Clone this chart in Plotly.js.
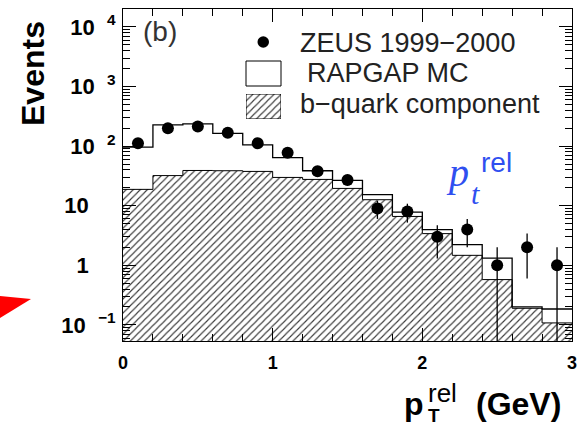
<!DOCTYPE html>
<html><head><meta charset="utf-8">
<script src="https://cdn.plot.ly/plotly-3.0.1.min.js"></script>
<style>html,body{margin:0;padding:0;background:#fff}#chart{width:585px;height:425px}</style>
</head><body><div id="chart"></div>
<script>
// ---- data ----
const binLow = [0.0,0.2,0.4,0.6,0.8,1.0,1.2,1.4,1.6,1.8,2.0,2.2,2.4,2.6,2.8];
const binHigh = 3.0;
const binWidth = 0.2;
const binCenters = [0.1,0.3,0.5,0.7,0.9,1.1,1.3,1.5,1.7,1.9,2.1,2.3,2.5,2.7,2.9];
const zeusCounts = [112,200,213,167,112,77,38,27,9,8,3,4,1,2,1];
const zeusErrUp   = [10.6,14.1,14.6,12.9,10.6,8.8,6.2,5.2,3.0,2.8,1.7,2.0,1.0,1.4,1.0];
const zeusErrDown = [10.6,14.1,14.6,12.9,10.6,8.8,6.2,5.2,3.0,2.8,1.7,2.0,0.99,1.4,0.99];
const rapgapMC = [96,227,236,164,105,64,38.6,26.5,15.3,7.8,3.96,2.22,1.32,0.20,0.185];
const bQuark   = [18.8,32,39,38.6,37.6,29.8,27.6,19.5,12.6,6.6,3.4,1.47,0.576,0.19,0.108];
const xTickVals = [0,1,2,3];
const xTickText = ['0','1','2','3'];
const xMinorVals = [0.2,0.4,0.6,0.8,1.2,1.4,1.6,1.8,2.2,2.4,2.6,2.8];
const yTickVals = [0.1,1,10,100,1000,10000];
const NB = '\u00A0';
const yTickText = ['10'+NB+NB+'<sup>\u22121</sup>', '1'+NB+NB+NB+'<sup>'+NB+NB+'</sup>', '10'+NB+NB+NB+'<sup>'+NB+NB+'</sup>',
                   '10'+NB+NB+'<sup>2</sup>', '10'+NB+NB+'<sup>3</sup>', '10'+NB+NB+'<sup>4</sup>'];
const yMinorMantissa = [2,3,4,5,6,7,8,9];
const yMinorDecades = [0.01,0.1,1,10,100,1000,10000];

// ---- geometry helpers (page pixels -> paper) ----
const W = 585, H = 425, ML = 123, MR = 13, MT = 9, MB = 84;
const PW = W - ML - MR, PH = H - MT - MB;
const X = px => (px - ML) / PW;
const Y = py => (H - MB - py) / PH;

const stepX = binLow.concat([binHigh]);
const stepMC = rapgapMC.concat([rapgapMC[rapgapMC.length-1]]);
const stepB = bQuark.concat([bQuark[bQuark.length-1]]);
const yMinorVals = [];
yMinorDecades.forEach(d => yMinorMantissa.forEach(m => yMinorVals.push(m*d)));

const hatch = {shape:'/', fgcolor:'#3a3a3a', bgcolor:'white', size:5, solidity:0.22};

const traces = [
  {type:'bar', x:binCenters, y:bQuark, width:binWidth, marker:{color:'white', pattern:hatch, line:{width:0}}, hoverinfo:'skip'},
  {type:'scatter', mode:'lines', x:stepX, y:stepMC, line:{shape:'hv', color:'black', width:1.3}, hoverinfo:'skip'},
  {type:'scatter', mode:'lines', x:stepX, y:stepB, line:{shape:'hv', color:'black', width:1}, hoverinfo:'skip'},
  {type:'scatter', mode:'markers', x:binCenters, y:zeusCounts,
   marker:{color:'black', size:12},
   error_y:{type:'data', symmetric:false, array:zeusErrUp, arrayminus:zeusErrDown, color:'black', thickness:1.3, width:0}},
  // hatched legend swatch
  {type:'bar', x:[0.5], y:[1], width:1, xaxis:'x2', yaxis:'y2', marker:{color:'white', pattern:hatch, line:{width:1, color:'black'}}, hoverinfo:'skip'},
  // empty trace registering the minor-tick subplot
  {type:'scatter', mode:'markers', x:[], y:[], xaxis:'x3', yaxis:'y3', hoverinfo:'skip'}
];

const fontS = 'Liberation Sans, Arial, sans-serif';
const fontSerif = 'Liberation Serif, Times New Roman, serif';
const blue = '#2f4ff0';

const ann = (px, py, text, opts) => Object.assign({xref:'paper', yref:'paper', x:X(px), y:Y(py), text:text, showarrow:false, xanchor:'center', yanchor:'middle'}, opts);

const layout = {
  width: W, height: H,
  margin: {l:ML, r:MR, t:MT, b:MB},
  paper_bgcolor:'white', plot_bgcolor:'rgba(0,0,0,0)',
  showlegend:false, barmode:'overlay', bargap:0,
  xaxis: {domain:[0,1], anchor:'y', range:[0,3], tickmode:'array', tickvals:xTickVals, ticktext:xTickText,
          ticks:'inside', ticklen:13, tickwidth:1, tickcolor:'black',
          showline:true, linecolor:'black', linewidth:1, mirror:'allticks',
          showgrid:false, zeroline:false, ticklabelstandoff:5,
          tickfont:{family:fontS, size:18, weight:'bold', color:'black'},
          title:{text:''}},
  yaxis: {domain:[0,1], anchor:'x', type:'log', range:[-1.27, 4.30], tickmode:'array', tickvals:yTickVals, ticktext:yTickText,
          ticks:'inside', ticklen:13, tickwidth:1, tickcolor:'black',
          showline:true, linecolor:'black', linewidth:1, mirror:'allticks',
          showgrid:false, zeroline:false, ticklabelstandoff:2,
          tickfont:{family:fontS, size:22, weight:'bold', color:'black'},
          title:{text:''}},
  // minor ticks drawn by a label-less subplot on the same area
  xaxis3: {domain:[0,1], anchor:'y3', range:[0,3], tickmode:'array', tickvals:xMinorVals,
           ticks:'inside', ticklen:7, tickwidth:1, tickcolor:'black', showticklabels:false,
           showline:false, mirror:'allticks', showgrid:false, zeroline:false, fixedrange:true},
  yaxis3: {domain:[0,1], anchor:'x3', type:'log', range:[-1.27, 4.30], tickmode:'array', tickvals:yMinorVals,
           ticks:'inside', ticklen:7, tickwidth:1, tickcolor:'black', showticklabels:false,
           showline:false, mirror:'allticks', showgrid:false, zeroline:false, fixedrange:true},
  xaxis2: {domain:[X(246), X(281)], anchor:'y2', range:[0,1], visible:false, fixedrange:true},
  yaxis2: {domain:[Y(119), Y(94)], anchor:'x2', range:[0,1], visible:false, fixedrange:true},
  shapes: [
    {type:'path', xref:'paper', yref:'paper', path:'M '+X(-5)+' '+Y(295.5)+' L '+X(31)+' '+Y(299)+' L '+X(-5)+' '+Y(321)+' Z', fillcolor:'#ff0000', line:{width:0}},
    {type:'circle', xref:'paper', yref:'paper', x0:X(257.5), x1:X(269), y0:Y(47.8), y1:Y(36.3), fillcolor:'black', line:{width:0}},
    {type:'rect', xref:'paper', yref:'paper', x0:X(246), x1:X(281), y0:Y(86), y1:Y(61), fillcolor:'white', line:{color:'black', width:1}}
  ],
  annotations: [
    ann(33.5, 73.5, '<b>Events</b>', {textangle:-90, font:{family:fontS, size:32, color:'black'}}),
    ann(160, 31, '(b)', {font:{family:fontS, size:28, color:'#333'}}),
    ann(298, 43, 'ZEUS 1999\u22122000', {xanchor:'left', font:{family:fontS, size:27, color:'#222'}}),
    ann(305, 73, 'RAPGAP MC', {xanchor:'left', font:{family:fontS, size:27, color:'#222'}}),
    ann(298, 104, 'b\u2212quark component', {xanchor:'left', font:{family:fontS, size:27, color:'#222'}}),
    ann(457, 172.5, '<i>p</i>', {font:{family:fontSerif, size:40, color:blue}}),
    ann(475, 193, '<i>t</i>', {font:{family:fontSerif, size:30, color:blue}}),
    ann(496.5, 162.3, 'rel', {font:{family:fontS, size:28, color:blue}}),
    ann(414, 404, '<b>p</b>', {font:{family:fontS, size:32, color:'black'}}),
    ann(426, 402, '<span style="font-size:26px">rel</span><br><b><span style="font-size:19px">T</span></b>', {xanchor:'left', align:'left', font:{family:fontS, size:15, color:'black'}}),
    ann(518.5, 404, '<b>(GeV)</b>', {font:{family:fontS, size:32, color:'black'}})
  ]
};

Plotly.newPlot('chart', traces, layout, {staticPlot:true, displayModeBar:false});
</script>
</body></html>
